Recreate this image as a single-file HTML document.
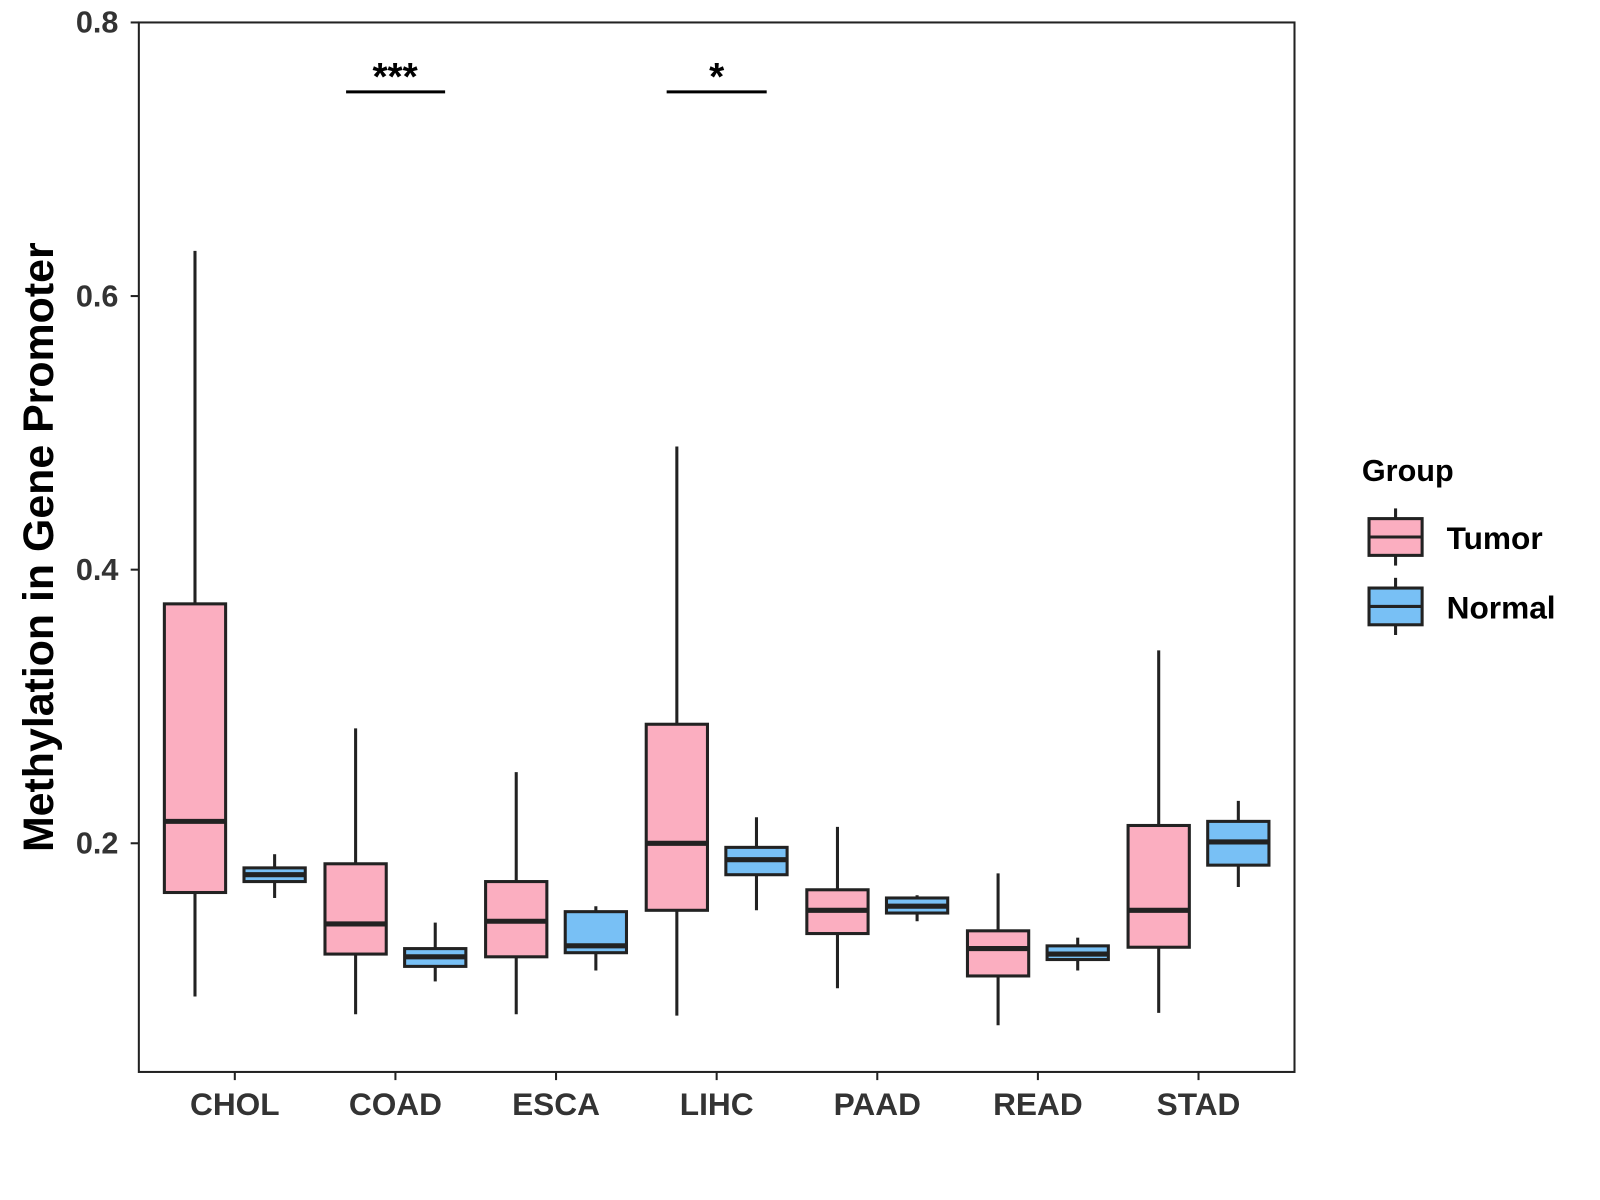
<!DOCTYPE html>
<html><head><meta charset="utf-8"><style>
html,body{margin:0;padding:0;background:#fff;width:1600px;height:1200px;overflow:hidden}
text{font-family:"Liberation Sans",Arial,sans-serif;font-weight:bold}
</style></head><body>
<svg id="chart" width="1600" height="1200" xmlns="http://www.w3.org/2000/svg">
<g transform="scale(1.0209)">
<rect x="136" y="22" width="1132" height="1028" fill="#fff" stroke="#222" stroke-width="2"/>
<g id="axes"></g>
<g id="boxes"></g>
<g>
<line x1="339" x2="436" y1="90" y2="90" stroke="#000" stroke-width="3"/>
<text x="387" y="88" text-anchor="middle" font-size="38" fill="#000">***</text></g>
<g>
<line x1="653" x2="751" y1="90" y2="90" stroke="#000" stroke-width="3"/>
<text x="702" y="88" text-anchor="middle" font-size="38" fill="#000">*</text></g>
<text transform="translate(52,536) rotate(-90)" text-anchor="middle" font-size="42" fill="#000">Methylation in Gene Promoter</text>
<g>
<text x="1334" y="471" font-size="30" fill="#000">Group</text>
<g>
<line x1="1367" x2="1367" y1="498" y2="554" stroke="#222" stroke-width="3"/>
<rect x="1341" y="508" width="52" height="36" fill="#FBAEC0" stroke="#222" stroke-width="3"/>
<line x1="1341" x2="1393" y1="526" y2="526" stroke="#222" stroke-width="3"/>
<text x="1417" y="538" font-size="31" fill="#000">Tumor</text></g>
<g>
<line x1="1367" x2="1367" y1="566" y2="622" stroke="#222" stroke-width="3"/>
<rect x="1341" y="576" width="52" height="36" fill="#78C0F5" stroke="#222" stroke-width="3"/>
<line x1="1341" x2="1393" y1="594" y2="594" stroke="#222" stroke-width="3"/>
<text x="1417" y="606" font-size="31" fill="#000">Normal</text></g>
</g>
</g>
</svg>
<script>
const categories=["CHOL","COAD","ESCA","LIHC","PAAD","READ","STAD"];
const tumorLow=[0.088,0.075,0.075,0.074,0.094,0.067,0.076];
const tumorQ1=[0.164,0.119,0.117,0.151,0.134,0.103,0.124];
const tumorMed=[0.216,0.141,0.143,0.200,0.151,0.123,0.151];
const tumorQ3=[0.375,0.185,0.172,0.287,0.166,0.136,0.213];
const tumorHigh=[0.633,0.284,0.252,0.490,0.212,0.178,0.341];
const normalLow=[0.160,0.099,0.107,0.151,0.143,0.107,0.168];
const normalQ1=[0.172,0.110,0.120,0.177,0.149,0.115,0.184];
const normalMed=[0.177,0.117,0.125,0.188,0.154,0.119,0.201];
const normalQ3=[0.182,0.123,0.150,0.197,0.160,0.125,0.216];
const normalHigh=[0.192,0.142,0.154,0.219,0.162,0.131,0.231];
const yTicks=[0.2,0.4,0.6,0.8];
const yTickLabels=["0.2","0.4","0.6","0.8"];

const NS="http://www.w3.org/2000/svg";
const y=v=>826-(v-0.2)*1340;
const x=i=>230+i*157.33;
function mk(tag,attrs,parent){const e=document.createElementNS(NS,tag);for(const k in attrs)e.setAttribute(k,attrs[k]);parent.appendChild(e);return e;}
const axes=document.getElementById('axes'),boxes=document.getElementById('boxes');
yTicks.forEach((t,i)=>{
 const g=mk('g',{},axes);
 
 
 mk('line',{x1:128,x2:136,y1:y(t),y2:y(t),stroke:'#222','stroke-width':2},g);
 const tx=mk('text',{x:116,y:y(t)+10,'text-anchor':'end','font-size':30,fill:'#333'},g);tx.textContent=yTickLabels[i];
});
categories.forEach((c,i)=>{
 const g=mk('g',{},axes);
 
 
 mk('line',{x1:x(i),x2:x(i),y1:1050,y2:1058,stroke:'#222','stroke-width':2},g);
 const tx=mk('text',{x:x(i),y:1092,'text-anchor':'middle','font-size':31,fill:'#333'},g);tx.textContent=c;
});
function box(cx,lo,q1,md,q3,hi,fill,name){
 const g=mk('g',{},boxes);
 
 
 mk('line',{x1:cx,x2:cx,y1:y(hi),y2:y(lo),stroke:'#222','stroke-width':3},g);
 mk('rect',{x:cx-30,y:y(q3),width:60,height:y(q1)-y(q3),fill:fill,stroke:'#222','stroke-width':3},g);
 mk('line',{x1:cx-30,x2:cx+30,y1:y(md),y2:y(md),stroke:'#222','stroke-width':5},g);
}
categories.forEach((c,i)=>{
 box(x(i)-39,tumorLow[i],tumorQ1[i],tumorMed[i],tumorQ3[i],tumorHigh[i],'#FBAEC0','box-tumor-'+c.toLowerCase());
 box(x(i)+39,normalLow[i],normalQ1[i],normalMed[i],normalQ3[i],normalHigh[i],'#78C0F5','box-normal-'+c.toLowerCase());
});
</script>
</body></html>
